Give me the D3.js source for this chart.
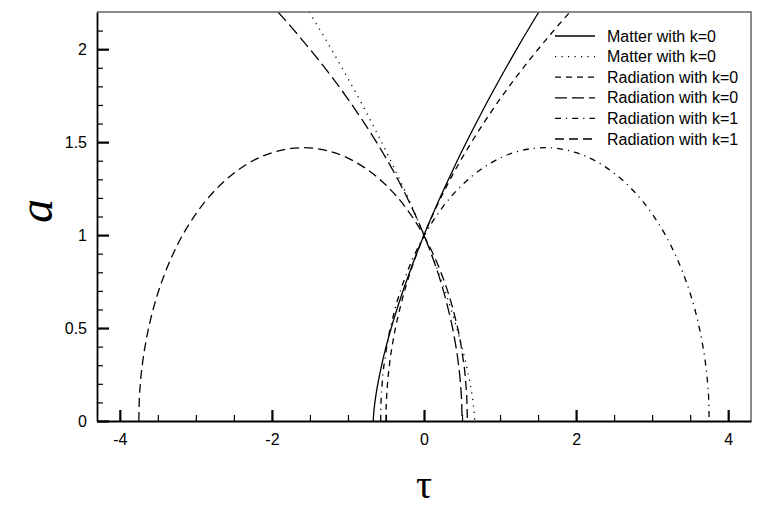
<!DOCTYPE html>
<html>
<head>
<meta charset="utf-8">
<script src="https://cdn.jsdelivr.net/npm/d3@7"></script>
<style>
  html, body { margin: 0; padding: 0; background: #fff; }
  svg { display: block; }
  text { font-family: "Liberation Sans", Arial, Helvetica, sans-serif; fill: #000; }
</style>
</head>
<body>
<svg id="chart" width="763" height="518"></svg>
<script>
// ---------- data ----------
const xMajorTicks = [-4, -2, 0, 2, 4];
const xMinorTicks = [-3.5, -3, -2.5, -1.5, -1, -0.5, 0.5, 1, 1.5, 2.5, 3, 3.5];
const yMajorTicks = [0, 0.5, 1, 1.5, 2];
const yMinorTicks = [0.1, 0.2, 0.3, 0.4, 0.6, 0.7, 0.8, 0.9, 1.1, 1.2, 1.3, 1.4, 1.6, 1.7, 1.8, 1.9, 2.1];
const xTickLabels = ["-4", "-2", "0", "2", "4"];
const yTickLabels = ["0", "0.5", "1", "1.5", "2"];

// Matter, k=0 (expanding)
const matterTau = [-0.6667, -0.666, -0.663, -0.66, -0.65, -0.64, -0.62, -0.6, -0.55, -0.5, -0.4, -0.3, -0.2, -0.1, 0, 0.2, 0.4, 0.6, 0.8, 1.0, 1.2, 1.4, 1.51];
const matterA   = [0, 0.010, 0.031, 0.046, 0.086, 0.117, 0.170, 0.215, 0.313, 0.397, 0.543, 0.671, 0.788, 0.897, 1.0, 1.191, 1.368, 1.534, 1.692, 1.842, 1.987, 2.126, 2.200];
// Matter, k=0 (time-reversed)
const matterRevTau = [0.6667, 0.666, 0.663, 0.66, 0.65, 0.64, 0.62, 0.6, 0.55, 0.5, 0.4, 0.3, 0.2, 0.1, 0, -0.2, -0.4, -0.6, -0.8, -1.0, -1.2, -1.4, -1.51];
const matterRevA   = [0, 0.010, 0.031, 0.046, 0.086, 0.117, 0.170, 0.215, 0.313, 0.397, 0.543, 0.671, 0.788, 0.897, 1.0, 1.191, 1.368, 1.534, 1.692, 1.842, 1.987, 2.126, 2.200];
// Radiation, k=0 (expanding)
const radTau = [-0.5, -0.499, -0.495, -0.49, -0.48, -0.45, -0.4, -0.3, -0.2, -0.1, 0, 0.2, 0.4, 0.6, 0.8, 1.0, 1.2, 1.4, 1.6, 1.8, 1.92];
const radA   = [0, 0.045, 0.100, 0.141, 0.200, 0.316, 0.447, 0.632, 0.775, 0.894, 1.0, 1.183, 1.342, 1.483, 1.612, 1.732, 1.844, 1.949, 2.049, 2.145, 2.200];
// Radiation, k=0 (time-reversed)
const radRevTau = [0.5, 0.499, 0.495, 0.49, 0.48, 0.45, 0.4, 0.3, 0.2, 0.1, 0, -0.2, -0.4, -0.6, -0.8, -1.0, -1.2, -1.4, -1.6, -1.8, -1.92];
const radRevA   = [0, 0.045, 0.100, 0.141, 0.200, 0.316, 0.447, 0.632, 0.775, 0.894, 1.0, 1.183, 1.342, 1.483, 1.612, 1.732, 1.844, 1.949, 2.049, 2.145, 2.200];
// Radiation, k=1 (right closed curve)
const radK1Tau = [-0.57, -0.565, -0.55, -0.5, -0.4, -0.3, -0.2, -0.1, 0, 0.25, 0.5, 0.75, 1.0, 1.25, 1.59, 1.75, 2.0, 2.25, 2.5, 2.75, 3.0, 3.25, 3.4, 3.5, 3.6, 3.65, 3.7, 3.73, 3.745, 3.75];
const radK1A   = [0, 0.100, 0.200, 0.371, 0.572, 0.712, 0.823, 0.916, 0.995, 1.153, 1.269, 1.354, 1.414, 1.452, 1.470, 1.466, 1.443, 1.400, 1.333, 1.240, 1.114, 0.941, 0.802, 0.687, 0.538, 0.442, 0.315, 0.200, 0.100, 0];
// Radiation, k=1 (left closed curve)
const radK1RevTau = [0.57, 0.565, 0.55, 0.5, 0.4, 0.3, 0.2, 0.1, 0, -0.25, -0.5, -0.75, -1.0, -1.25, -1.59, -1.75, -2.0, -2.25, -2.5, -2.75, -3.0, -3.25, -3.4, -3.5, -3.6, -3.65, -3.7, -3.73, -3.745, -3.75];
const radK1RevA   = [0, 0.100, 0.200, 0.371, 0.572, 0.712, 0.823, 0.916, 0.995, 1.153, 1.269, 1.354, 1.414, 1.452, 1.470, 1.466, 1.443, 1.400, 1.333, 1.240, 1.114, 0.941, 0.802, 0.687, 0.538, 0.442, 0.315, 0.200, 0.100, 0];

const seriesLabels = ["Matter with k=0", "Matter with k=0", "Radiation with k=0", "Radiation with k=0", "Radiation with k=1", "Radiation with k=1"];

// ---------- layout ----------
const svg = d3.select("#chart");
const L = 97, R = 751, T = 12, B = 421;
const x = d3.scaleLinear().domain([-4.3, 4.3]).range([L, R]);
const y = d3.scaleLinear().domain([0, 2.2]).range([B, T]);

const series = [
  { tau: matterTau,    a: matterA,    dash: null },
  { tau: matterRevTau, a: matterRevA, dash: "1.2,5.3" },
  { tau: radTau,       a: radA,       dash: "6,5" },
  { tau: radRevTau,    a: radRevA,    dash: "12,5" },
  { tau: radK1Tau,     a: radK1A,     dash: "6,5,1.2,5" },
  { tau: radK1RevTau,  a: radK1RevA,  dash: "9,5" }
];

svg.append("defs").append("clipPath").attr("id", "clip")
  .append("rect").attr("x", L).attr("y", T).attr("width", R - L).attr("height", B - T);

const line = d3.line()
  .x(d => x(d[0]))
  .y(d => y(d[1]))
  .curve(d3.curveMonotoneX);

const plot = svg.append("g").attr("clip-path", "url(#clip)");
series.forEach(s => {
  const pts = s.tau.map((t, i) => [t, s.a[i]]).sort((p, q) => p[0] - q[0]);
  plot.append("path")
    .attr("d", line(pts))
    .attr("fill", "none")
    .attr("stroke", "#000")
    .attr("stroke-width", 1.3)
    .attr("stroke-dasharray", s.dash);
});

// top / right frame (grey)
svg.append("path")
  .attr("d", `M${L},${T}H${R}V${B}`)
  .attr("fill", "none").attr("stroke", "#666").attr("stroke-width", 1.5);

// x axis
const xMinor = svg.append("g").attr("transform", `translate(0,${B})`)
  .call(d3.axisBottom(x).tickValues(xMinorTicks).tickSize(-6).tickSizeOuter(0).tickFormat(""));
xMinor.select(".domain").remove();
xMinor.selectAll(".tick line").attr("stroke-width", 1.2);

const xAxis = svg.append("g").attr("transform", `translate(0,${B})`)
  .call(d3.axisBottom(x).tickValues(xMajorTicks).tickSize(-11).tickSizeOuter(0).tickPadding(13)
    .tickFormat((d, i) => xTickLabels[i]));
xAxis.select(".domain").attr("stroke-width", 1.8);
xAxis.selectAll(".tick line").attr("stroke-width", 2.2);
xAxis.selectAll(".tick text").style("font-size", "16px").attr("font-family", null);

// y axis
const yMinor = svg.append("g").attr("transform", `translate(${L},0)`)
  .call(d3.axisLeft(y).tickValues(yMinorTicks).tickSize(-6).tickSizeOuter(0).tickFormat(""));
yMinor.select(".domain").remove();
yMinor.selectAll(".tick line").attr("stroke-width", 1.2);

const yAxis = svg.append("g").attr("transform", `translate(${L},0)`)
  .call(d3.axisLeft(y).tickValues(yMajorTicks).tickSize(-12).tickSizeOuter(0).tickPadding(10)
    .tickFormat((d, i) => yTickLabels[i]));
yAxis.select(".domain").attr("stroke-width", 1.8);
yAxis.selectAll(".tick line").attr("stroke-width", 2.2);
yAxis.selectAll(".tick text").style("font-size", "16px").attr("font-family", null);

svg.selectAll(".domain").attr("stroke", "#000");

// axis titles
svg.append("text")
  .attr("x", x(0)).attr("y", 498)
  .attr("text-anchor", "middle")
  .style("font-family", "'Liberation Serif', 'DejaVu Serif', serif")
  .style("font-size", "40px")
  .text("τ");

svg.append("text")
  .attr("transform", `translate(52,211) rotate(-90)`)
  .attr("text-anchor", "middle")
  .style("font-family", "'Liberation Serif', 'DejaVu Serif', serif")
  .style("font-style", "italic")
  .style("font-size", "48px")
  .text("a");

// legend
const leg = svg.append("g");
series.forEach((s, i) => {
  const yy = 36 + i * 20.6;
  leg.append("line")
    .attr("x1", 555).attr("x2", 595).attr("y1", yy).attr("y2", yy)
    .attr("stroke", "#000").attr("stroke-width", 1.3)
    .attr("stroke-dasharray", s.dash);
  leg.append("text")
    .attr("x", 607).attr("y", yy).attr("dy", "0.35em")
    .style("font-size", "16px")
    .text(seriesLabels[i]);
});
</script>
</body>
</html>
